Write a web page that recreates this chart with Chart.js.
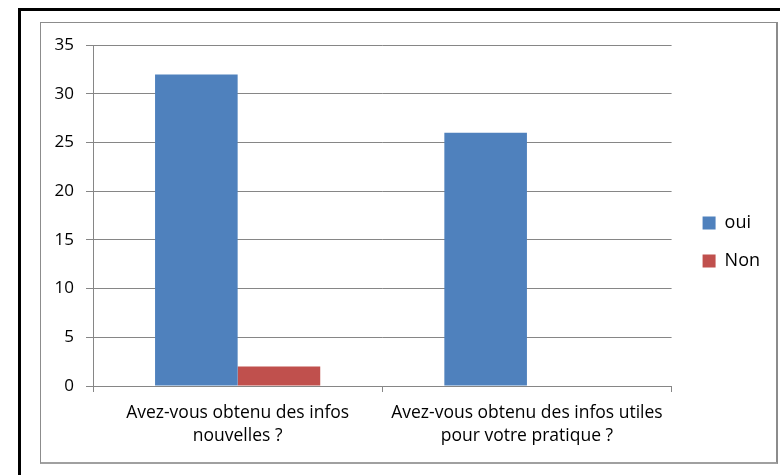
<!DOCTYPE html>
<html>
<head>
<meta charset="utf-8">
<script src="https://cdn.jsdelivr.net/npm/chart.js@4/dist/chart.umd.min.js"></script>
<style>
  html, body { margin: 0; padding: 0; background: #fff; }
  body { width: 780px; height: 475px; position: relative; overflow: hidden; }
  #outer { position: absolute; left: 18px; top: 8px; width: 800px; height: 500px; border-left: 3px solid #000; border-top: 3px solid #000; }
  #frame { position: absolute; left: 40px; top: 22px; width: 735px; height: 439px; border: 1px solid #8c8c8c; border-right: 2px solid #8c8c8c; border-bottom: 2px solid #a0a0a0; }
  #wrap { position: absolute; left: 41px; top: 23px; width: 735px; height: 439px; }
</style>
</head>
<body>
<div id="outer"></div>
<div id="frame"></div>
<div id="wrap"><canvas id="myChart" width="735" height="439"></canvas></div>
<script>
// chart data
var categories = [
    ['Avez-vous obtenu des infos', 'nouvelles ?'],
    ['Avez-vous obtenu des infos utiles', 'pour votre pratique ?']
];
var seriesNames = ['oui', 'Non'];
var ouiValues = [32, 26];
var nonValues = [2, 0];
var yTicks = [0, 5, 10, 15, 20, 25, 30, 35];

var gridGrey = '#868686';
var legendShiftX = 11;
var legendShiftY = -2;

// push the legend a bit further right than chart.js puts it
var shiftLegend = {
    id: 'shiftLegend',
    afterLayout: function (chart) {
        chart.legend.left += legendShiftX;
        chart.legend.right += legendShiftX;
        chart.legend.top += legendShiftY;
        chart.legend.bottom += legendShiftY;
    }
};

var ctx = document.getElementById('myChart');

var myChart = new Chart(ctx, {
    type: 'bar',
    data: {
        labels: categories,
        datasets: [{
            label: seriesNames[0],
            data: ouiValues,
            backgroundColor: '#4f81bd',
            categoryPercentage: 0.571,
            barPercentage: 1
        }, {
            label: seriesNames[1],
            data: nonValues,
            backgroundColor: '#c0504d',
            categoryPercentage: 0.571,
            barPercentage: 1
        }]
    },
    plugins: [shiftLegend],
    options: {
        responsive: false,
        animation: false,
        layout: { padding: { left: 0, right: 17, top: 13, bottom: 10 } },
        plugins: {
            tooltip: { enabled: false },
            legend: {
                position: 'right',
                labels: {
                    boxWidth: 13,
                    boxHeight: 13,
                    padding: 20,
                    color: '#000',
                    font: { family: 'Open Sans', size: 18 }
                }
            }
        },
        scales: {
            x: {
                afterFit: function (axis) { axis.height = 66; },
                grid: {
                    drawOnChartArea: false,
                    drawTicks: true,
                    tickLength: 6,
                    color: gridGrey
                },
                border: { color: gridGrey, width: 1 },
                ticks: {
                    color: '#000',
                    padding: 10,
                    maxRotation: 0,
                    font: { family: 'Open Sans', size: 17.5, lineHeight: 1.31 }
                }
            },
            y: {
                min: 0,
                max: 35,
                afterFit: function (axis) { axis.width = 52; },
                afterBuildTicks: function (axis) {
                    axis.ticks = yTicks.map(function (v) { return { value: v }; });
                },
                grid: {
                    color: gridGrey,
                    tickLength: 7
                },
                border: { color: gridGrey, width: 1 },
                ticks: {
                    color: '#000',
                    padding: 12,
                    font: { family: 'Open Sans', size: 17 }
                }
            }
        }
    }
});
</script>
</body>
</html>
